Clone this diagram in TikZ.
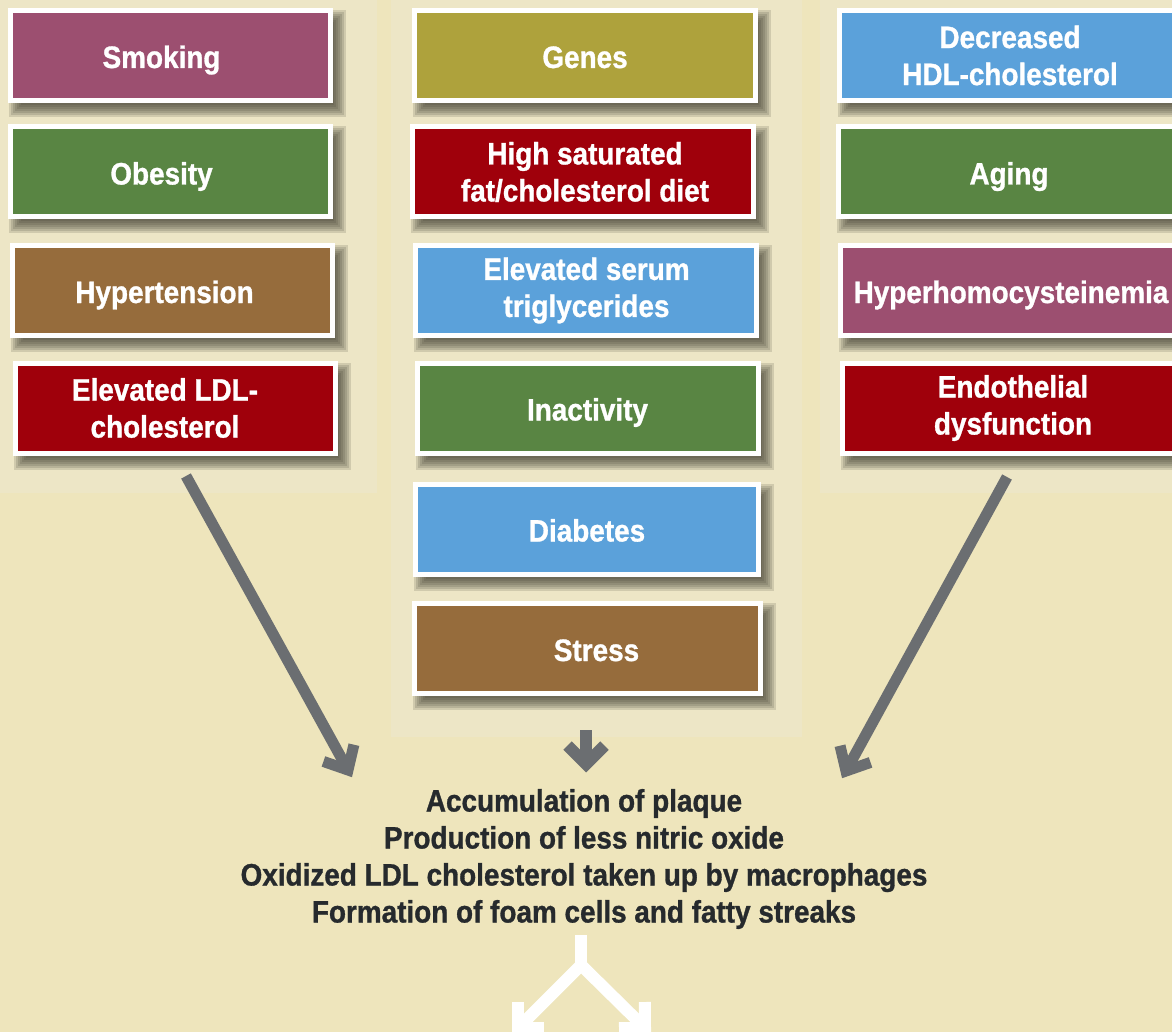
\documentclass[tikz,border=0pt]{standalone}
\usepackage{fontspec}
\newfontfamily\cfont{Liberation Sans}[FakeStretch=0.9,FakeBold=1]
\usetikzlibrary{calc}
\pgfdeclarelayer{bgl}
\pgfdeclarelayer{shadowl}
\pgfsetlayers{bgl,shadowl,main}
\definecolor{bg}{HTML}{EEE5BC}
\definecolor{panel}{HTML}{EDE6C6}
\definecolor{cpurple}{HTML}{9C4F70}
\definecolor{colive}{HTML}{AEA23C}
\definecolor{cblue}{HTML}{5BA1DA}
\definecolor{cgreen}{HTML}{598543}
\definecolor{cbrown}{HTML}{966C3C}
\definecolor{cred}{HTML}{9F000B}
\definecolor{cgray}{HTML}{6B6E71}
\definecolor{ctext}{HTML}{262A2D}
\definecolor{cshadow}{HTML}{3A3A2C}
\begin{document}
\begin{tikzpicture}[x=1pt,y=-1pt,
  rbox/.style={draw=white, line width=5pt, inner sep=0pt, minimum height=90pt, minimum width=#1},
  rbox/.default=320pt,
  btxt/.style={text=white, font=\cfont\bfseries\fontsize{31}{37}\selectfont, align=center, inner sep=0pt},
  onel/.style={btxt, text height=23pt, text depth=0pt, yshift=-1pt},
  ctxt/.style={text=ctext, font=\cfont\bfseries\fontsize{31}{37}\selectfont, align=center, inner sep=0pt},
  shadowpart/.style={fill=cshadow, fill opacity=0.16},
  garrow/.style={draw=cgray, line width=11pt, line join=miter, line cap=butt},
  warrow/.style={draw=white, line width=12pt, line join=miter, line cap=butt}]
\useasboundingbox (0,0) rectangle (1172,1032);
\clip (0,0) rectangle (1172,1032);
\begin{pgfonlayer}{bgl}
\fill[bg] (0,0) rectangle (1172,1032);
% panels
\fill[panel] (0,0) rectangle (377,493);
\fill[panel] (391,0) rectangle (802,737);
\fill[panel] (820,0) rectangle (1172,493);
\end{pgfonlayer}

% left column
\node[rbox, fill=cpurple] (smoking) at (170.5,55.5) {};
\node[onel] (smoking-t) at ([xshift=-9pt]smoking.center) {Smoking};
\node[rbox, fill=cgreen] (obesity) at (170.5,172) {};
\node[onel] (obesity-t) at ([xshift=-9pt]obesity.center) {Obesity};
\node[rbox, fill=cbrown] (hyper) at (172.5,290.5) {};
\node[onel] (hyper-t) at ([xshift=-8pt]hyper.center) {Hypertension};
\node[rbox, fill=cred] (ldl) at (175,408) {};
\node[btxt] (ldl-t) at ([xshift=-10pt]ldl.center) {Elevated LDL-\\cholesterol};

% middle column
\node[rbox=341pt, fill=colive] (genes) at (585,55.5) {};
\node[onel] (genes-t) at (genes.center) {Genes};
\node[rbox=341pt, fill=cred] (fat) at (583,172) {};
\node[btxt] (fat-t) at ([xshift=2pt]fat.center) {High saturated\\fat/cholesterol diet};
\node[rbox=341pt, fill=cblue] (tri) at (585.5,290.5) {};
\node[btxt] (tri-t) at ([xshift=1pt]tri.center) {Elevated serum\\triglycerides};
\node[rbox=341pt, fill=cgreen] (inact) at (587.5,408) {};
\node[onel] (inact-t) at (inact.center) {Inactivity};
\node[rbox=343pt, fill=cblue] (diab) at (587,529) {};
\node[onel] (diab-t) at (diab.center) {Diabetes};
\node[rbox=346pt, fill=cbrown] (stress) at (587.5,648.5) {};
\node[onel] (stress-t) at ([xshift=9pt]stress.center) {Stress};

% right column
\node[rbox=341pt, fill=cblue] (hdl) at (1010,55.5) {};
\node[btxt] (hdl-t) at (hdl.center) {Decreased\\HDL-cholesterol};
\node[rbox=341pt, fill=cgreen] (aging) at (1009,172) {};
\node[onel] (aging-t) at (aging.center) {Aging};
\node[rbox=341pt, fill=cpurple] (homo) at (1011,290.5) {};
\node[onel] (homo-t) at (homo.center) {Hyperhomocysteinemia};
\node[rbox=341pt, fill=cred] (endo) at (1013,408) {};
\node[btxt] (endo-t) at (endo.center) {Endothelial\\dysfunction};

% soft shadows behind the boxes
\begin{pgfonlayer}{shadowl}
\foreach \n in {smoking,obesity,hyper,ldl,genes,fat,tri,inact,diab,stress,hdl,aging,homo,endo}{
  \foreach \e in {-6,-4,-2,0,2,4,6}{
    \fill[shadowpart] ($(\n.north west)+(7-\e,8-\e)$) rectangle ($(\n.south east)+(7+\e,8+\e)$);
  }
}
\end{pgfonlayer}

% result text
\node[ctxt] (result) at (584,859) {Accumulation of plaque\\Production of less nitric oxide\\Oxidized LDL cholesterol taken up by macrophages\\Formation of foam cells and fatty streaks};

% gray arrows
\coordinate (la0) at (186,476);
\coordinate (la1) at (348,770);
\draw[garrow] (la0) -- (la1);
\draw[garrow] ($(la1)!26pt!42:(la0)$) -- (la1) -- ($(la1)!26pt!-42:(la0)$);
\coordinate (ra0) at (1007,477);
\coordinate (ra1) at (846,771);
\draw[garrow] (ra0) -- (ra1);
\draw[garrow] ($(ra1)!26pt!42:(ra0)$) -- (ra1) -- ($(ra1)!26pt!-42:(ra0)$);
\coordinate (ma0) at (586,730);
\coordinate (ma1) at (586,764);
\draw[garrow, line width=12pt] (ma0) -- (ma1);
\draw[garrow, line width=12pt] ($(ma1)!26pt!45:(ma0)$) -- (ma1) -- ($(ma1)!26pt!-45:(ma0)$);

% white split arrow
\coordinate (w0) at (581,935);
\coordinate (wf) at (581,965);
\coordinate (wl) at (518,1028);
\coordinate (wr) at (645,1028);
\draw[warrow] (w0) -- (wf);
\draw[warrow] (wl) -- (wf) -- (wr);
\draw[warrow] ($(wl)!26pt!45:(wf)$) -- (wl) -- ($(wl)!26pt!-45:(wf)$);
\draw[warrow] ($(wr)!26pt!45:(wf)$) -- (wr) -- ($(wr)!26pt!-45:(wf)$);
\end{tikzpicture}
\end{document}
